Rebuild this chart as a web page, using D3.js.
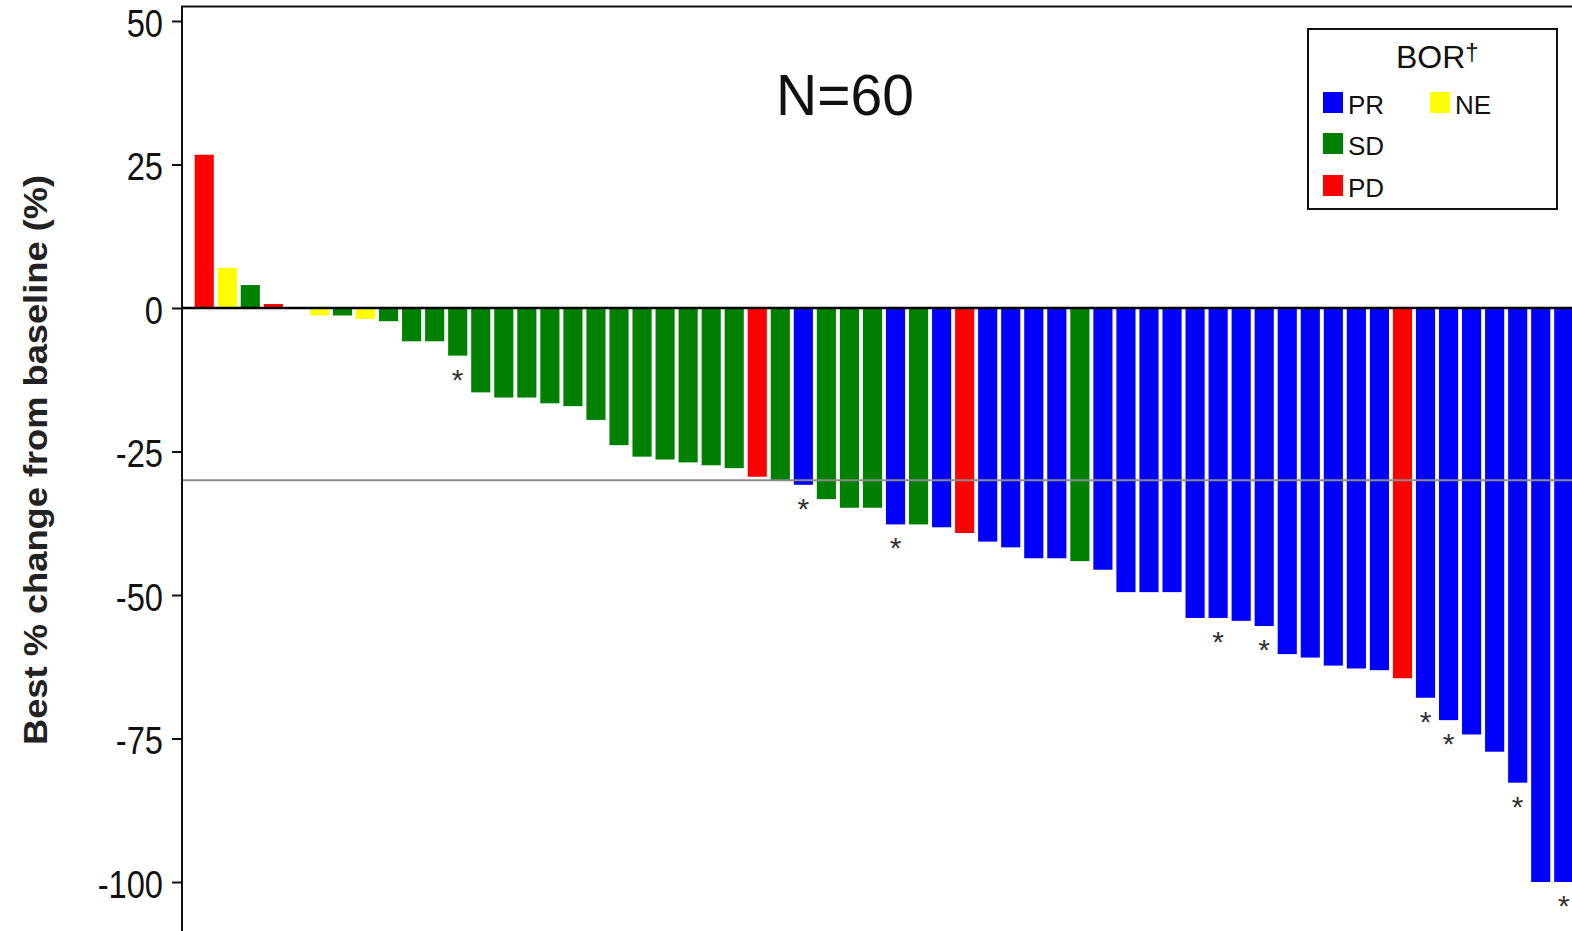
<!DOCTYPE html>
<html>
<head>
<meta charset="utf-8">
<script src="https://cdn.jsdelivr.net/npm/d3@7"></script>
<style>
  html, body { margin: 0; padding: 0; background: #fff; overflow: hidden; }
  svg { display: block; }
  text { font-family: "Liberation Sans", Arial, sans-serif; }
</style>
</head>
<body>
<svg id="chart" width="1572" height="931"></svg>
<script>
// Best % change from baseline per patient, sorted (waterfall)
const patients = d3.range(1, 61).map(String);
const bestChange = [
  26.7, 7.0, 4.0, 0.7, 0, -1.3, -1.3, -1.9, -2.3, -5.8,
  -5.8, -8.3, -14.7, -15.6, -15.6, -16.6, -17.1, -19.5, -23.9, -25.9,
  -26.4, -26.9, -27.4, -27.9, -29.4, -30.0, -30.8, -33.3, -34.8, -34.8,
  -37.7, -37.7, -38.2, -39.2, -40.7, -41.7, -43.6, -43.6, -44.1, -45.6,
  -49.5, -49.5, -49.5, -54.0, -54.0, -54.5, -55.4, -60.3, -60.9, -62.3,
  -62.8, -63.1, -64.5, -67.9, -71.8, -74.3, -77.3, -82.7, -100, -100
];
// Best overall response for each patient
const response = [
  "PD", "NE", "SD", "PD", "SD", "NE", "SD", "NE", "SD", "SD",
  "SD", "SD", "SD", "SD", "SD", "SD", "SD", "SD", "SD", "SD",
  "SD", "SD", "SD", "SD", "PD", "SD", "PR", "SD", "SD", "SD",
  "PR", "SD", "PR", "PD", "PR", "PR", "PR", "PR", "SD", "PR",
  "PR", "PR", "PR", "PR", "PR", "PR", "PR", "PR", "PR", "PR",
  "PR", "PR", "PD", "PR", "PR", "PR", "PR", "PR", "PR", "PR"
];
// Patients flagged with an asterisk
const flagged = ["12", "27", "31", "45", "47", "54", "55", "58", "60"];

const borLevels = ["PR", "SD", "PD", "NE"];
const borColors = ["#0000ff", "#008000", "#ff0000", "#ffff00"];
const yTicks = [50, 25, 0, -25, -50, -75, -100];
const threshold = -30;
const titleText = "N=60";
const yLabel = "Best % change from baseline (%)";

const data = patients.map((p, i) => ({
  id: p, value: bestChange[i], bor: response[i], flag: flagged.includes(p)
}));

const svg = d3.select("#chart");
const W = 1572, H = 931;
const plotLeft = 182, plotTop = 6.5;

const x = d3.scaleBand()
  .domain(patients)
  .range([plotLeft, 1586])
  .paddingInner(0.17)
  .paddingOuter(0.55);

const y = d3.scaleLinear().domain([-100, 50]).range([882, 21]);

const color = d3.scaleOrdinal().domain(borLevels).range(borColors);

// Bars
svg.append("g")
  .selectAll("rect")
  .data(data)
  .join("rect")
  .attr("x", d => x(d.id))
  .attr("width", x.bandwidth())
  .attr("y", d => y(Math.max(0, d.value)))
  .attr("height", d => Math.abs(y(d.value) - y(0)))
  .attr("fill", d => color(d.bor));

// Asterisks under flagged bars
const starSize = 30;
svg.append("g")
  .selectAll("text")
  .data(data.filter(d => d.flag))
  .join("text")
  .attr("x", d => x(d.id) + x.bandwidth() / 2)
  .attr("y", d => y(d.value) + 17 + 0.57 * starSize)
  .attr("text-anchor", "middle")
  .attr("font-size", starSize)
  .attr("fill", "#333")
  .text("*");

// Threshold line at -30%
svg.append("line")
  .attr("x1", plotLeft).attr("x2", W)
  .attr("y1", y(threshold)).attr("y2", y(threshold))
  .attr("stroke", "#8c8c8c").attr("stroke-width", 2);

// Zero line
svg.append("line")
  .attr("x1", plotLeft).attr("x2", W)
  .attr("y1", y(0)).attr("y2", y(0))
  .attr("stroke", "#000").attr("stroke-width", 2.5);

// Plot frame
svg.append("rect")
  .attr("x", plotLeft).attr("y", plotTop)
  .attr("width", W + 20 - plotLeft).attr("height", H + 20 - plotTop)
  .attr("fill", "none").attr("stroke", "#111").attr("stroke-width", 2);

// Y axis (tall, slightly condensed numerals with plain hyphen minus)
const labelScaleX = 0.86;
const yAxis = svg.append("g")
  .attr("transform", `translate(${plotLeft},0)`)
  .call(d3.axisLeft(y).tickValues(yTicks).tickSize(10).tickPadding(9).tickFormat(d => String(d)));
yAxis.select(".domain").remove();
yAxis.selectAll(".tick line").attr("stroke", "#111").attr("stroke-width", 2);
yAxis.selectAll(".tick text")
  .attr("font-family", "'Liberation Sans', Arial, sans-serif")
  .attr("font-size", 38)
  .attr("fill", "#111")
  .attr("x", -19 / labelScaleX)
  .attr("dy", "0.4em")
  .attr("transform", `scale(${labelScaleX},1)`);

// Y axis title
svg.append("text")
  .attr("transform", "translate(47,460) rotate(-90)")
  .attr("text-anchor", "middle")
  .attr("font-size", 34)
  .attr("font-weight", "bold")
  .attr("fill", "#222")
  .attr("textLength", 570)
  .attr("lengthAdjust", "spacingAndGlyphs")
  .text(yLabel);

// Chart title
svg.append("text")
  .attr("x", 845).attr("y", 115)
  .attr("text-anchor", "middle")
  .attr("font-size", 57)
  .attr("fill", "#111")
  .text(titleText);

// Legend
const legend = svg.append("g");
legend.append("rect")
  .attr("x", 1308).attr("y", 29)
  .attr("width", 249).attr("height", 180)
  .attr("fill", "#fff").attr("stroke", "#111").attr("stroke-width", 2);
const lt = legend.append("text")
  .attr("x", 1396).attr("y", 68)
  .attr("font-size", 32)
  .attr("fill", "#111");
lt.append("tspan").text("BOR");
lt.append("tspan").attr("dy", -8).attr("font-size", 24).text("†");

const legendPos = { PR: [1323, 92], SD: [1323, 133], PD: [1323, 175], NE: [1430, 92] };
borLevels.forEach(k => {
  const [lx, ly] = legendPos[k];
  legend.append("rect")
    .attr("x", lx).attr("y", ly)
    .attr("width", 20).attr("height", 21)
    .attr("fill", color(k));
  legend.append("text")
    .attr("x", lx + 25).attr("y", ly + 22)
    .attr("font-size", 26)
    .attr("fill", "#111")
    .text(k);
});
</script>
</body>
</html>
